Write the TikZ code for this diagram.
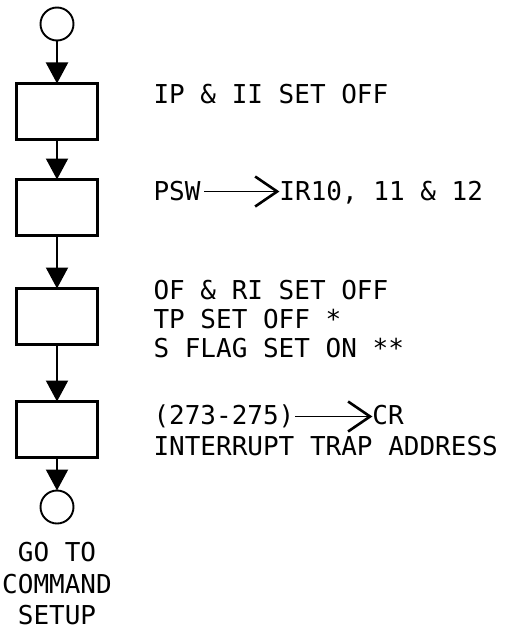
\documentclass[tikz,border=0pt]{standalone}
\usepackage{fontspec}
\newfontfamily\chartfont{DejaVu Sans Mono}
\usetikzlibrary{arrows.meta, positioning}

\begin{document}
\begin{tikzpicture}[
    x=1bp, y=-1bp,
    stepbox/.style={rectangle, draw=black, line width=2.2bp, minimum width=81bp, minimum height=56bp, outer sep=0pt},
    terminal/.style={circle, draw=black, line width=1.9bp, minimum size=33bp, inner sep=0pt, outer sep=0pt},
    flow/.style={-{Triangle[length=21bp, width=22bp]}, line width=2bp},
    transfer/.style={-{Straight Barb[length=22bp, width=30bp, line width=2.6bp]}, line width=1.8bp},
    note/.style={inner sep=0pt, outer sep=0pt, align=left, font=\chartfont\fontsize{26bp}{29bp}\selectfont}
]
    \useasboundingbox (0,0) rectangle (509,635);

    \node[terminal] (start) at (57,24) {};
    \node[stepbox, below=43bp of start] (b1) {};
    \node[stepbox, below=40bp of b1] (b2) {};
    \node[stepbox, below=53bp of b2] (b3) {};
    \node[stepbox, below=57bp of b3] (b4) {};
    \node[terminal, below=33bp of b4] (finish) {};
    \node[note, align=center, font=\chartfont\fontsize{26bp}{31.5bp}\selectfont, below=19bp of finish] (goto) {GO TO\\COMMAND\\SETUP};

    \draw[flow] (start) -- (b1);
    \draw[flow] (b1) -- (b2);
    \draw[flow] (b2) -- (b3);
    \draw[flow] (b3) -- (b4);
    \draw[flow] (b4) -- (finish);

    % texto de cada paso
    \node[note, right=56bp of b1, yshift=17.5bp] (t1) {IP \& II SET OFF};
    \node[note, right=56bp of b2, yshift=16bp] (t2) {PSW};
    \node[note, base right=79bp of t2] (t2r) {IR10, 11 \& 12};
    \draw[transfer, shorten <=4bp] (t2.east) -- (t2.east -| t2r.west);

    \node[note, right=56bp of b3, yshift=-3bp] (t3) {OF \& RI SET OFF\\TP SET OFF *\\S FLAG SET ON **};

    \node[note, right=56bp of b4, yshift=13bp] (t4) {(273-275)};
    \node[note, base right=78bp of t4] (t4r) {CR};
    \draw[transfer, shorten <=1bp] (t4.east) -- (t4.east -| t4r.west);
    \node[note, below=8bp of t4.south west, anchor=north west] (t4b) {INTERRUPT TRAP ADDRESS};
\end{tikzpicture}
\end{document}
